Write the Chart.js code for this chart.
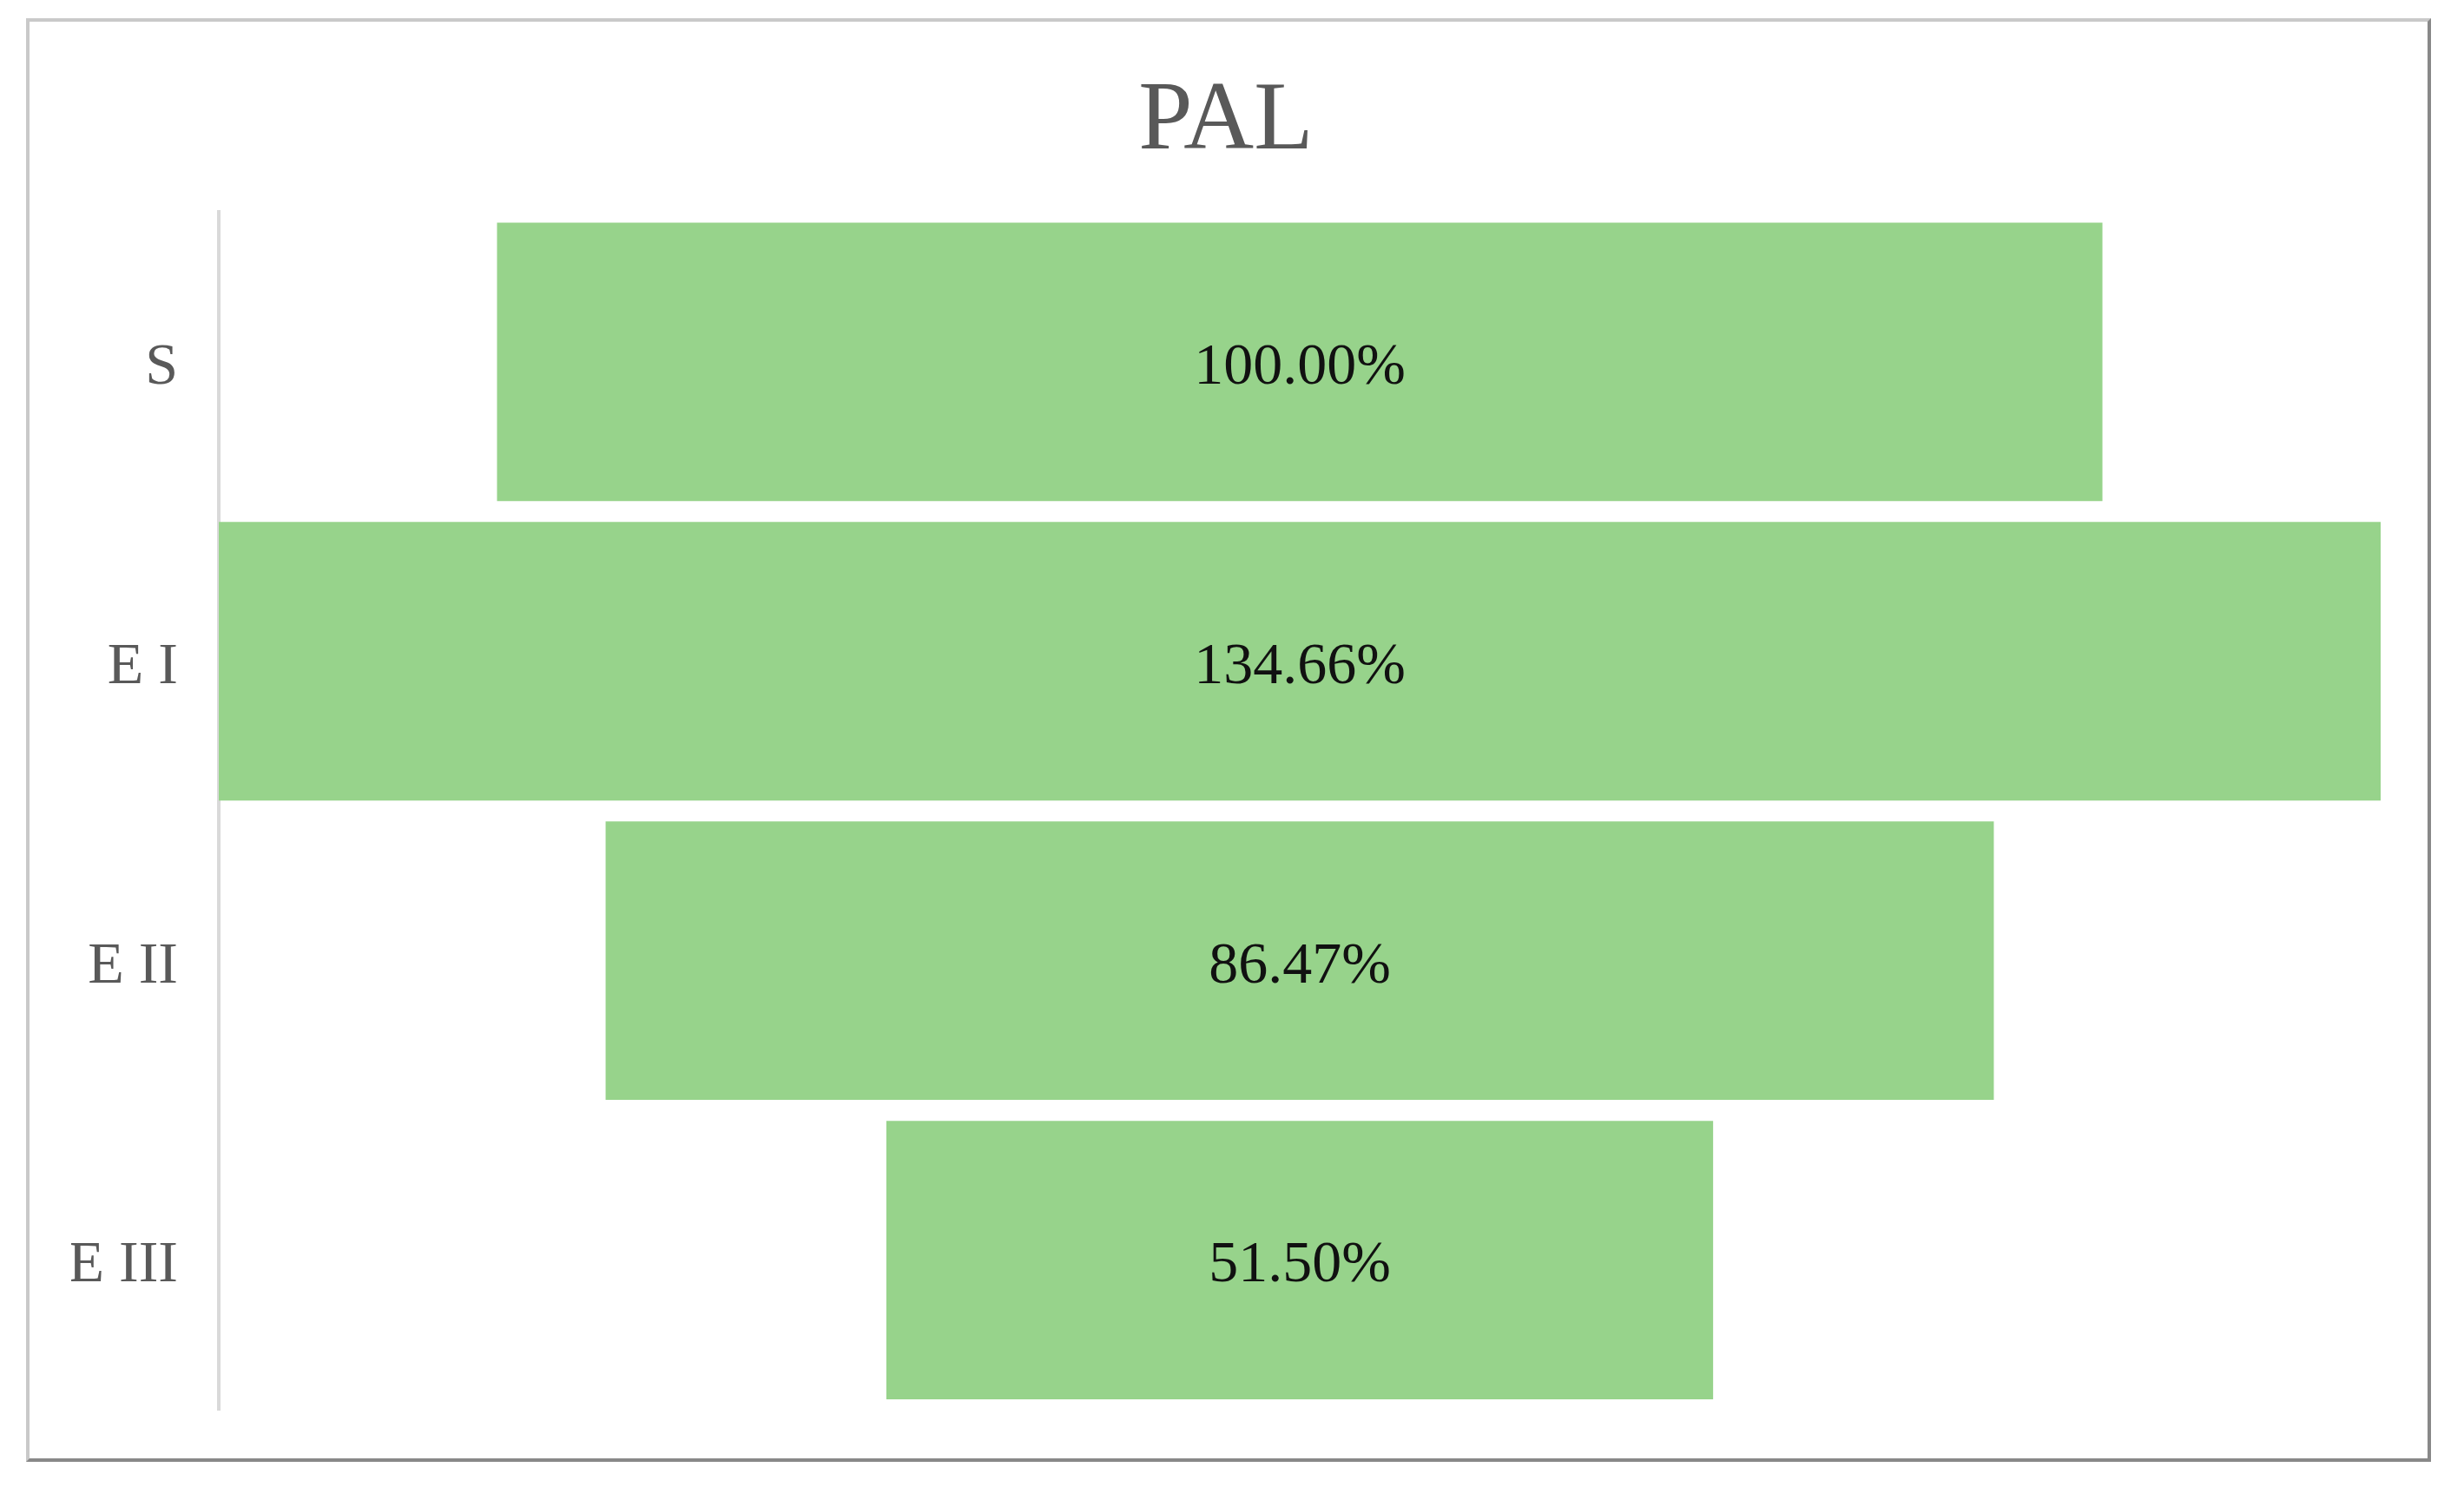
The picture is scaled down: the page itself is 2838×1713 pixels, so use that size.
<!DOCTYPE html>
<html>
<head>
<meta charset="utf-8">
<script src="https://cdn.jsdelivr.net/npm/chart.js@4.4.0/dist/chart.umd.min.js"></script>
<style>
  html, body { margin: 0; padding: 0; background: #ffffff; }
  #marco {
    position: absolute; left: 30px; top: 21px; width: 2762px; height: 1655px;
    border-left: 4px solid #c9c9c9; border-top: 4px solid #c9c9c9;
    border-right: 4px solid #888888; border-bottom: 4px solid #888888;
  }
  #contenedor { position: absolute; left: 0; top: 0; width: 2838px; height: 1713px; }
</style>
</head>
<body>
<div id="marco"></div>
<div id="contenedor"><canvas id="graficoEmbudo"></canvas></div>
<script>
// Datos del gráfico
const etapas = ["S", "E I", "E II", "E III"];
const porcentajes = [100.00, 134.66, 86.47, 51.50];
const titulo = "PAL";

const fuente = "'Liberation Serif', 'DejaVu Serif', serif";

// Barras flotantes centradas en cero para formar el embudo
const datosEmbudo = porcentajes.map(v => [-v / 2, v / 2]);
const limite = Math.max(...porcentajes) / 2;

// Dibuja el porcentaje en el centro de cada barra
const etiquetasBarras = {
    id: "etiquetasBarras",
    afterDatasetsDraw(chart) {
        const { ctx } = chart;
        const meta = chart.getDatasetMeta(0);
        ctx.save();
        ctx.font = "68px " + fuente;
        ctx.fillStyle = "#111111";
        ctx.textAlign = "center";
        ctx.textBaseline = "middle";
        meta.data.forEach((barra, i) => {
            const x = chart.scales.x.getPixelForValue(0);
            ctx.fillText(porcentajes[i].toFixed(2) + "%", x, barra.y + 7);
        });
        ctx.restore();
    }
};

const ctx = document.getElementById("graficoEmbudo");

new Chart(ctx, {
    type: "bar",
    data: {
        labels: etapas,
        datasets: [
            {
                data: datosEmbudo,
                backgroundColor: "#97d38b",
                borderWidth: 0,
                barPercentage: 0.93,
                categoryPercentage: 1.0,
            },
        ],
    },
    options: {
        indexAxis: "y",
        responsive: true,
        maintainAspectRatio: false,
        animation: false,
        layout: {
            padding: { left: 82, right: 96, top: 0, bottom: 89 },
        },
        scales: {
            x: {
                display: false,
                min: -limite,
                max: limite,
            },
            y: {
                grid: { display: false },
                border: { display: true, color: "#d9d9d9", width: 4 },
                ticks: {
                    color: "#595959",
                    font: { family: fuente, size: 68 },
                    padding: 39,
                    labelOffset: 7,
                },
                afterFit(escala) {
                    escala.width = 170;
                },
            },
        },
        plugins: {
            legend: { display: false },
            tooltip: { enabled: false },
            title: {
                display: true,
                text: titulo,
                color: "#595959",
                font: { family: fuente, size: 112, weight: "normal" },
                padding: { top: 74, bottom: 36 },
            },
        },
    },
    plugins: [etiquetasBarras],
});
</script>
</body>
</html>
